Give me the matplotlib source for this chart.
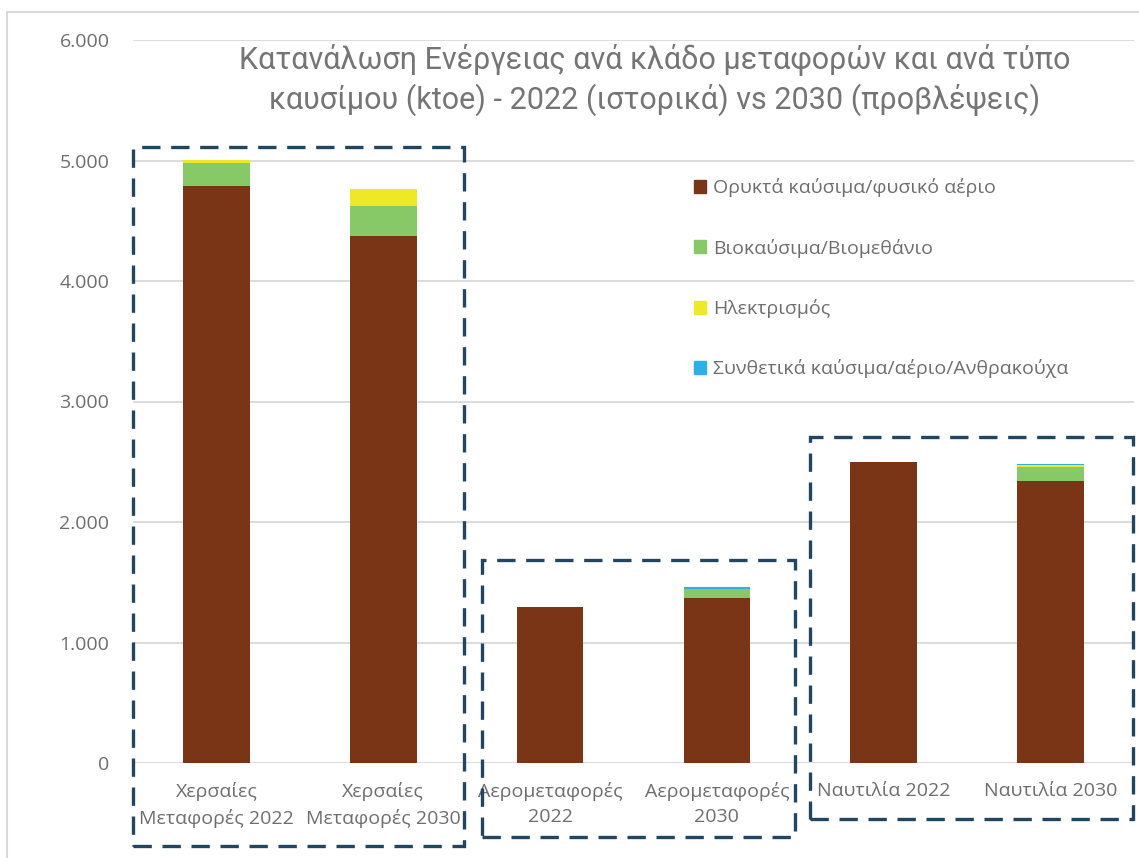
import matplotlib
matplotlib.use("Agg")
import matplotlib.pyplot as plt
from matplotlib.patches import Rectangle, Patch
from matplotlib.ticker import FuncFormatter, MultipleLocator
import numpy as np

# ---- data ----
categories = ["Χερσαίες\nΜεταφορές 2022", "Χερσαίες\nΜεταφορές 2030",
              "Αερομεταφορές\n2022", "Αερομεταφορές\n2030",
              "Ναυτιλία 2022", "Ναυτιλία 2030"]
series_names = ["Ορυκτά καύσιμα/φυσικό αέριο", "Βιοκαύσιμα/Βιομεθάνιο",
                "Ηλεκτρισμός", "Συνθετικά καύσιμα/αέριο/Ανθρακούχα"]
fossil = [4790, 4375, 1295, 1373, 2498, 2343]
bio = [190, 250, 0, 75, 0, 116]
electricity = [20, 140, 0, 0, 0, 10]
synthetic = [0, 0, 0, 15, 0, 12]
colors = ["#7A3517", "#87C966", "#EEE827", "#2DB0E6"]
title = "Κατανάλωση Ενέργειας ανά κλάδο μεταφορών και ανά τύπο\nκαυσίμου (ktoe) - 2022 (ιστορικά) vs 2030 (προβλέψεις)"

W, H = 1139, 858
fig = plt.figure(figsize=(W / 100, H / 100), dpi=100)
fig.patch.set_facecolor("white")

def fx(px):
    return px / W

def fy(py):
    return 1 - py / H

FONT = ["Open Sans", "DejaVu Sans"]

ax = fig.add_axes([fx(133), fy(763), fx(1134) - fx(133), fy(40) - fy(763)])
x = np.arange(len(categories))
bottom = np.zeros(len(categories))
for vals, name, c in zip([fossil, bio, electricity, synthetic], series_names, colors):
    ax.bar(x, vals, width=0.4, bottom=bottom, color=c, label=name, zorder=3)
    bottom += np.array(vals)

ax.set_xlim(-0.5, len(categories) - 0.5)
ax.set_ylim(0, 6000)
ax.yaxis.set_major_locator(MultipleLocator(1000))
ax.yaxis.set_major_formatter(FuncFormatter(lambda v, p: f"{int(v):,}".replace(",", ".")))
ax.grid(axis="y", color="#D9D9D9", lw=1.3, zorder=0)
for s in ax.spines.values():
    s.set_visible(False)
ax.tick_params(axis="both", length=0, colors="#6E6E6E", labelsize=14)
ax.tick_params(axis="y", pad=17)
ax.tick_params(axis="x", pad=14)
ax.set_xticks(x)
ax.set_xticklabels(categories, linespacing=1.5)
for t in ax.get_xticklabels() + ax.get_yticklabels():
    t.set_fontfamily(FONT)

handles = [Patch(color=c) for c in colors]
leg = ax.legend(handles, series_names, loc="upper left",
                bbox_to_anchor=(fx(676), fy(161)), bbox_transform=fig.transFigure,
                frameon=False, handlelength=0.65, handleheight=0.65, handletextpad=0.35,
                labelspacing=2.12, prop={"family": FONT, "size": 14})
for t in leg.get_texts():
    t.set_color("#6E6E6E")

fig.text(fx(655), fy(80), title, ha="center", va="center", fontsize=22,
         color="#757575", linespacing=1.3, family=["Roboto", "DejaVu Sans"])

# outer chart border
fig.patches.append(Rectangle((fx(7), fy(880)), fx(1160) - fx(7), fy(12) - fy(880),
                             transform=fig.transFigure, fill=False, ec="#D9D9D9", lw=1.5))

# dashed group boxes
boxes = [(133, 147, 464, 846), (482, 560, 795, 837), (810, 437, 1133, 819)]
for x0, y0, x1, y1 in boxes:
    r = Rectangle((fx(x0), fy(y1)), fx(x1) - fx(x0), fy(y0) - fy(y1),
                  transform=fig.transFigure, fill=False, ec="#22465F", lw=2.4,
                  linestyle=(0, (5.5, 3.2)), zorder=10)
    fig.patches.append(r)

fig.savefig("out.png", dpi=100)
